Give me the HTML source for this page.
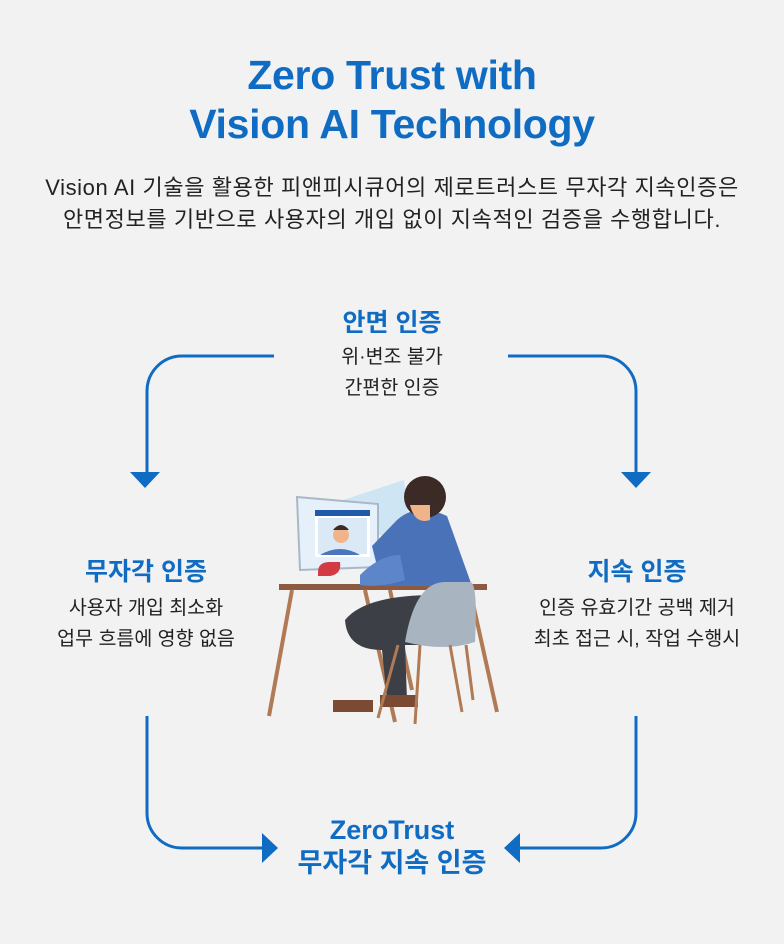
<!DOCTYPE html>
<html><head><meta charset="utf-8"><style>
body{margin:0;width:784px;height:944px;background:#f2f2f2;font-family:"Liberation Sans","Noto Sans CJK KR",sans-serif;position:relative;overflow:hidden}
.t{position:absolute;left:0;width:784px;text-align:center}
h1{position:absolute;left:0;width:784px;margin:0;text-align:center;color:#0f6cc2;font-size:41px;line-height:49px;top:51px;font-weight:bold;letter-spacing:-0.3px}
.p{top:172px;font-size:22px;line-height:32px;color:#222;letter-spacing:0.6px}
.h{position:absolute;color:#0f6cc2;font-weight:bold;font-size:25px;text-align:center}
.s{position:absolute;color:#222;font-size:19.5px;line-height:31px;text-align:center}
</style></head><body>
<h1>Zero Trust with<br>Vision AI Technology</h1>
<div class="t p">Vision AI 기술을 활용한 피앤피시큐어의 제로트러스트 무자각 지속인증은<br>안면정보를 기반으로 사용자의 개입 없이 지속적인 검증을 수행합니다.</div>
<div class="h" style="left:292px;width:200px;top:303px">안면 인증</div>
<div class="s" style="left:292px;width:200px;top:342px">위·변조 불가<br>간편한 인증</div>
<div class="h" style="left:46px;width:200px;top:552px">무자각 인증</div>
<div class="s" style="left:26px;width:240px;top:593px">사용자 개입 최소화<br>업무 흐름에 영향 없음</div>
<div class="h" style="left:537px;width:200px;top:552px">지속 인증</div>
<div class="s" style="left:497px;width:280px;top:593px">인증 유효기간 공백 제거<br>최초 접근 시, 작업 수행시</div>
<div class="h" style="left:232px;width:320px;top:814px;line-height:33px;font-size:27px">ZeroTrust<br>무자각 지속 인증</div>
<svg width="784" height="944" style="position:absolute;left:0;top:0">
<g fill="none" stroke="#0f6cc2" stroke-width="3">
<path d="M274 356H182A35 35 0 0 0 147 391V474"/>
<path d="M508 356H601A35 35 0 0 1 636 391V474"/>
<path d="M147 716V813A35 35 0 0 0 182 848H264"/>
<path d="M636 716V813A35 35 0 0 1 601 848H520"/>
</g>
<g fill="#0f6cc2">
<path d="M130 472H160L145 488Z"/><path d="M621 472H651L636 488Z"/>
<path d="M262 833V863L278 848Z"/><path d="M520 833V863L504 848Z"/>
</g>
<polygon points="343,500 404,480 410,530 352,540" fill="#bfe0f3" opacity="0.7"/>
<path d="M297 497L378 504V567L300 570Z" fill="#e6f0fa" stroke="#a9b8c8" stroke-width="2"/>
<rect x="315" y="510" width="55" height="47" fill="#fff"/>
<rect x="315" y="510" width="55" height="6" fill="#1f5aa8"/>
<rect x="318" y="518" width="49" height="36" fill="#dbe8f5"/>
<circle cx="341" cy="535" r="8" fill="#f0b48a"/>
<path d="M333 530q8-10 16 0" fill="#3b2a25"/>
<path d="M320 555q20-12 40 0z" fill="#4a77bb"/>
<path d="M318 572q0-10 12-10h10q2 12-10 14h-12z" fill="#d23b43"/>
<rect x="279" y="584" width="208" height="6" fill="#8c5a40"/>
<g stroke="#b07a55" stroke-width="4"><line x1="292" y1="590" x2="269" y2="716"/><line x1="365" y1="590" x2="395" y2="722"/><line x1="470" y1="590" x2="497" y2="712"/><line x1="390" y1="590" x2="412" y2="690"/></g>
<path d="M397 520q20-18 50-4l25 70h-90l-10 -40z" fill="#4a72b8"/>
<path d="M360 575q20-20 40-20l5 25q-25 8-45 5z" fill="#5c86c9"/>
<circle cx="425" cy="497" r="21" fill="#3b2a25"/>
<path d="M410 505q5 20 20 15v-15z" fill="#f0b48a"/>
<path d="M345 620q20-25 90-25l10 50h-40l2 55h-20l-5-50q-35 0-37-30z" fill="#3c3f45"/>
<path d="M333 700h40v12h-40z" fill="#7a4a33"/><path d="M380 695h38v12h-38z" fill="#7a4a33"/>
<path d="M405 642q10-60 40-60h25q8 0 5 60q-30 10-70 0z" fill="#a8b4bf"/>
<g stroke="#b07a55" stroke-width="3"><line x1="398" y1="645" x2="378" y2="718"/><line x1="420" y1="645" x2="415" y2="724"/><line x1="450" y1="645" x2="462" y2="712"/><line x1="466" y1="645" x2="473" y2="700"/></g>
</svg>
</body></html>
